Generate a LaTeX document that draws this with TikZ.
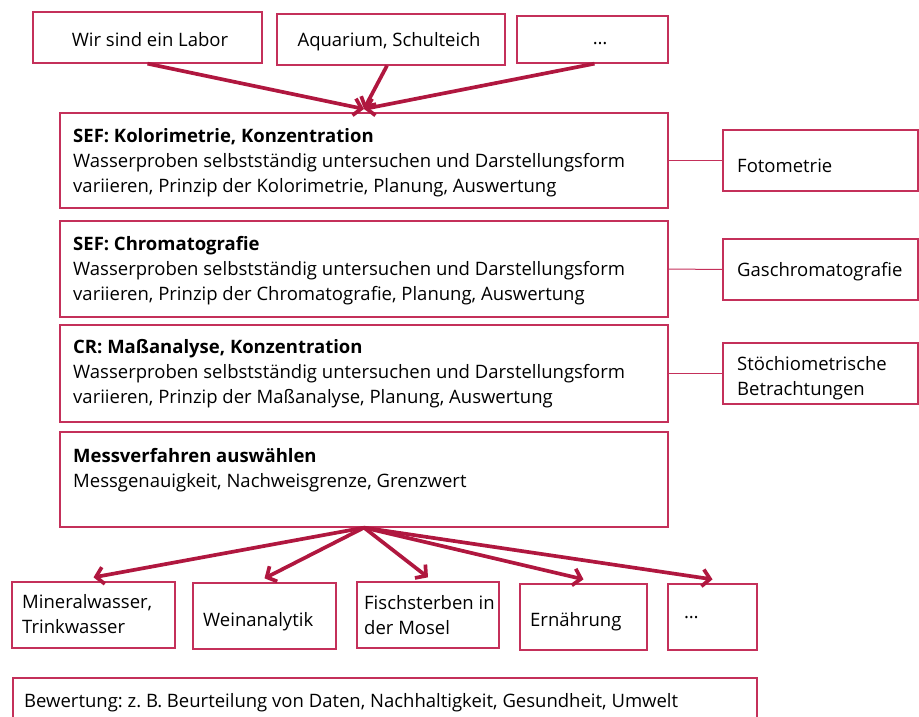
\documentclass[tikz,border=0pt]{standalone}
\usepackage{fontspec}
\setmainfont{Open Sans}
\usetikzlibrary{arrows.meta,fit}
\definecolor{arrowc}{HTML}{B0173F}
\definecolor{boxc}{HTML}{C4305A}
\frenchspacing
\begin{document}
\begin{tikzpicture}[x=1pt,y=-1pt,
  box/.style={draw=boxc,line width=1.3pt,inner sep=0pt},
  txt/.style={inner sep=0pt,anchor=base west,font=\fontsize{18.5}{25}\selectfont,align=left},
  ctxt/.style={inner sep=0pt,anchor=base,font=\fontsize{18.5}{25}\selectfont},
  arr/.style={draw=arrowc,line width=3.7pt,-{Straight Barb[length=7.5pt,width=17pt]}},
  link/.style={draw=boxc,line width=1pt}]
\useasboundingbox (0,0) rectangle (919,717);
% top row
\node[box,fit={(33,12) (262,63)}] (t1) {};
\node[box,fit={(277,14) (505,65)}] (t2) {};
\node[box,fit={(517,16) (668,63)}] (t3) {};
\node[ctxt] (t1l) at (150,47) {Wir sind ein Labor};
\node[ctxt] (t2l) at (389,47) {Aquarium, Schulteich};
\node[ctxt] (t3l) at (600,45) {\dots};
% main boxes
\node[box,fit={(60,113) (668,208)}] (m1) {};
\node[box,fit={(60,221) (668,317)}] (m2) {};
\node[box,fit={(60,325) (668,422)}] (m3) {};
\node[box,fit={(60,432) (668,527)}] (m4) {};
\node[txt] (m1l) at (73,192) {\textbf{SEF: Kolorimetrie, Konzentration}\\Wasserproben selbstständig untersuchen und Darstellungsform\\variieren, Prinzip der Kolorimetrie, Planung, Auswertung};
\node[txt] (m2l) at (73,300) {\textbf{SEF: Chromatografie}\\Wasserproben selbstständig untersuchen und Darstellungsform\\variieren, Prinzip der Chromatografie, Planung, Auswertung};
\node[txt] (m3l) at (73,403) {\textbf{CR: Maßanalyse, Konzentration}\\Wasserproben selbstständig untersuchen und Darstellungsform\\variieren, Prinzip der Maßanalyse, Planung, Auswertung};
\node[txt] (m4l) at (73,487) {\textbf{Messverfahren auswählen}\\Messgenauigkeit, Nachweisgrenze, Grenzwert};
% right boxes
\node[box,fit={(723,130) (918,191)}] (r1) {};
\node[box,fit={(723,239) (918,300)}] (r2) {};
\node[box,fit={(723,343) (918,404)}] (r3) {};
\node[txt] (r1l) at (737,172) {Fotometrie};
\node[txt] (r2l) at (737,276) {Gaschromatografie};
\node[txt] (r3l) at (737,395) {Stöchiometrische\\Betrachtungen};
\draw[link] (m1.east) -- (r1.west);
\draw[link] (m2.east) -- (r2.west);
\draw[link] (m3.east) -- (r3.west);
% bottom boxes
\node[box,fit={(12,582) (175,648)}] (b1) {};
\node[box,fit={(193,583) (336,649)}] (b2) {};
\node[box,fit={(357,582) (499,648)}] (b3) {};
\node[box,fit={(520,584) (647,650)}] (b4) {};
\node[box,fit={(668,584) (757,650)}] (b5) {};
\node[txt] (b1l) at (22,633) {Mineralwasser,\\Trinkwasser};
\node[txt] (b2l) at (203,626) {Weinanalytik};
\node[txt] (b3l) at (364,634) {Fischsterben in\\der Mosel};
\node[txt] (b4l) at (530,626) {Ernährung};
\node[txt] (b5l) at (684,618) {\dots};
\node[box,fit={(13,678) (757,730)}] (bw) {};
\node[txt] (bwl) at (24,707) {Bewertung: z.~B. Beurteilung von Daten, Nachhaltigkeit, Gesundheit, Umwelt};
% arrows
\coordinate (tin) at (364,109);
\draw[arr] (t1.south) -- (tin);
\draw[arr] ([xshift=-4pt]t2.south) -- (tin);
\draw[arr] ([xshift=2pt]t3.south) -- (tin);
\draw[arr] (m4.south) -- ([yshift=4pt]b1.north);
\draw[arr] (m4.south) -- ([yshift=4pt]b2.north);
\draw[arr] (m4.south) -- ([yshift=4pt]b3.north);
\draw[arr] (m4.south) -- ([yshift=4pt]b4.north);
\draw[arr] (m4.south) -- ([yshift=4pt]b5.north);
\end{tikzpicture}
\end{document}
